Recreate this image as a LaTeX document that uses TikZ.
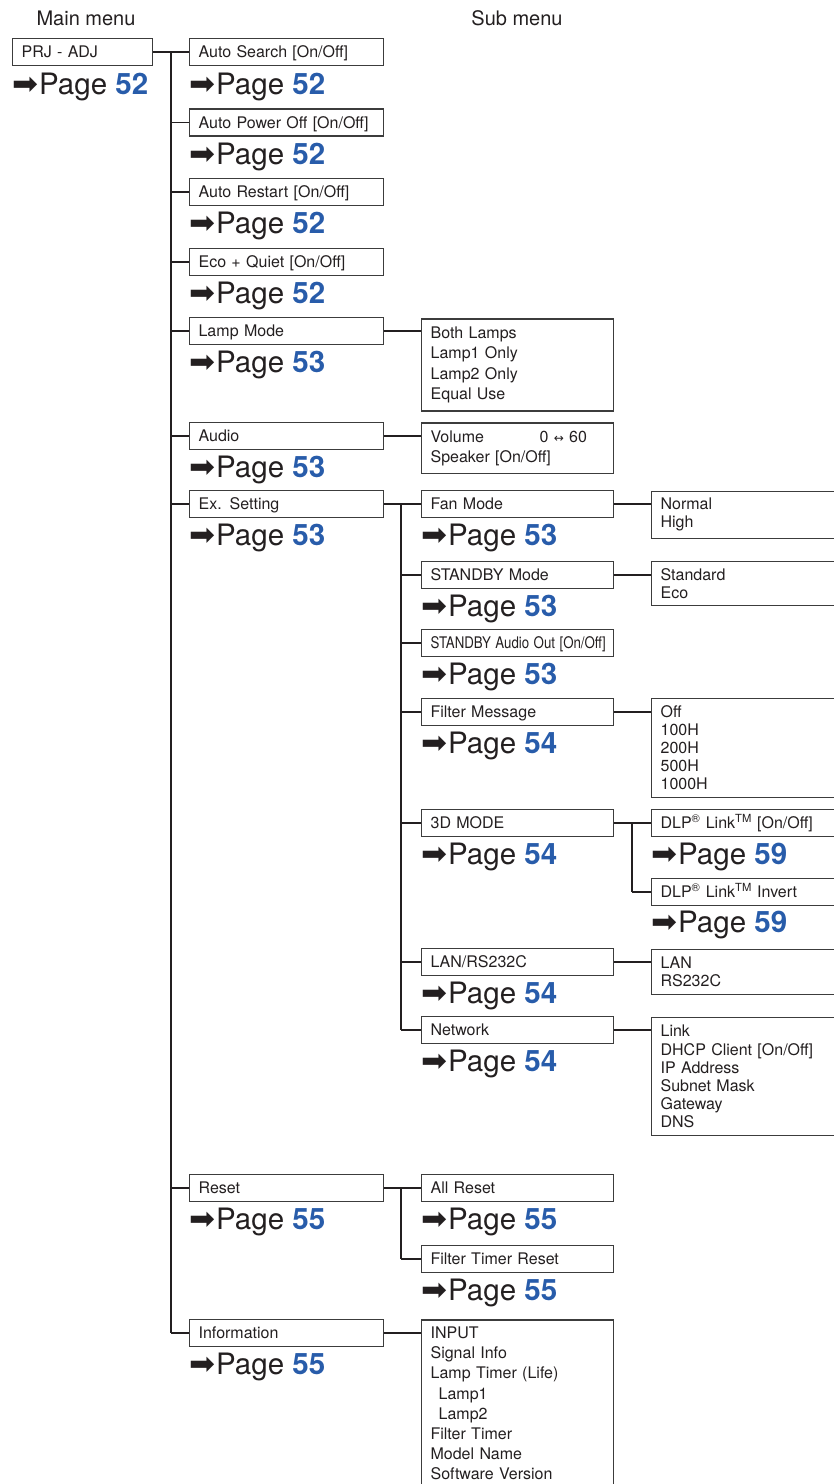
\documentclass[tikz,border=0pt]{standalone}
\usepackage{fontspec}
\usepackage{graphicx}
\usepackage{xcolor}
\usepackage{tikz}
\usetikzlibrary{positioning,calc}
\setmainfont{TeX Gyre Heros}
\newfontfamily\arrowfont{DejaVu Sans}
\definecolor{inkc}{RGB}{35,31,32}
\definecolor{framec}{RGB}{60,60,60}
\definecolor{pgblue}{RGB}{40,92,170}
\newcommand\boxfont{\fontsize{16}{20}\selectfont}
\newcommand\gopage[1]{{\arrowfont\fontsize{31}{32}\selectfont ➡}\hspace{1pt}Page {\bfseries\color{pgblue}#1}}
\tikzset{
  hdr/.style={anchor=base,inner sep=0pt,font=\fontsize{20}{24}\selectfont,text=inkc},
  mbox/.style={draw=framec,line width=1.2pt,text width=#1,align=left,inner xsep=9pt,inner ysep=0pt,
    text height=11.6pt,text depth=0pt,minimum height=27pt,anchor=west,font=\boxfont,text=inkc},
  mbox/.default=174pt,
  lbox/.style={draw=framec,line width=1.2pt,text width=#1,align=left,inner xsep=9pt,inner ysep=7pt,
    anchor=north west,text=inkc},
  lbox/.default=174pt,
  pg/.style={anchor=base west,inner sep=0pt,font=\fontsize{29.5}{31}\selectfont,text=inkc},
  ln/.style={line width=1.6pt,draw=inkc},
}

\begin{document}
\begin{tikzpicture}[x=1pt,y=-1pt]
  \useasboundingbox (0,0) rectangle (834,1484);
  \clip (0,0) rectangle (834,1484);
  % headings
  \node[hdr] (mainhdr) at (86,25) {Main menu};
  \node[hdr] (subhdr) at (517,25) {Sub menu};

  % main menu
  \node[mbox=122pt] (prj) at (12,51.7) {PRJ - ADJ};
  \node[pg] (prjpg) at (12,94) {\gopage{52}};

  % first level
  \node[mbox=176pt] (autosrch) at (189,51.7) {Auto Search [On/Off]};
  \node[pg] (autosrchpg) at (189,94.5) {\gopage{52}};
  \node[mbox=176pt] (autopwr) at (189,122.5) {Auto Power Off [On/Off]};
  \node[pg] (autopwrpg) at (189,164.5) {\gopage{52}};
  \node[mbox=176pt] (autorst) at (189,192) {Auto Restart [On/Off]};
  \node[pg] (autorstpg) at (189,233.5) {\gopage{52}};
  \node[mbox=176pt] (ecoq) at (189,262) {Eco + Quiet [On/Off]};
  \node[pg] (ecoqpg) at (189,303.5) {\gopage{52}};
  \node[mbox=176pt] (lampmode) at (189,331) {Lamp Mode};
  \node[pg] (lampmodepg) at (189,372) {\gopage{53}};
  \node[mbox=176pt] (audio) at (189,436) {Audio};
  \node[pg] (audiopg) at (189,477) {\gopage{53}};
  \node[mbox=176pt] (exset) at (189,504) {Ex. Setting};
  \node[pg] (exsetpg) at (189,545) {\gopage{53}};
  \node[mbox=176pt] (reset) at (189,1188) {Reset};
  \node[pg] (resetpg) at (189,1229) {\gopage{55}};
  \node[mbox=176pt] (info) at (189,1333) {Information};
  \node[pg] (infopg) at (189,1374) {\gopage{55}};

  % second level
  \node[lbox,minimum height=92pt,font=\fontsize{16}{20.2}\selectfont] (lampL) at (421,318.3)
    {Both Lamps\\Lamp1 Only\\Lamp2 Only\\Equal Use};
  \node[lbox,minimum height=50.4pt,font=\fontsize{16}{20}\selectfont] (audioL) at (421,422.3)
    {\makebox[109pt][l]{Volume}0 {\arrowfont\fontsize{12}{12}\selectfont ↔} 60\\Speaker [On/Off]};
  \node[mbox] (fan) at (421,504) {Fan Mode};
  \node[pg] (fanpg) at (421,545) {\gopage{53}};
  \node[mbox] (stby) at (421,575) {STANDBY Mode};
  \node[pg] (stbypg) at (421,616) {\gopage{53}};
  \node[mbox] (stbyaud) at (421,643) {\scalebox{0.83}[1]{STANDBY Audio Out [On/Off]}};
  \node[pg] (stbyaudpg) at (421,684) {\gopage{53}};
  \node[mbox] (filtmsg) at (421,712) {Filter Message};
  \node[pg] (filtmsgpg) at (421,753) {\gopage{54}};
  \node[mbox] (threed) at (421,823) {3D MODE};
  \node[pg] (threedpg) at (421,864) {\gopage{54}};
  \node[mbox] (lan) at (421,962) {LAN/RS232C};
  \node[pg] (lanpg) at (421,1003) {\gopage{54}};
  \node[mbox] (network) at (421,1030) {Network};
  \node[pg] (networkpg) at (421,1071) {\gopage{54}};
  \node[mbox] (allrst) at (421,1188) {All Reset};
  \node[pg] (allrstpg) at (421,1229) {\gopage{55}};
  \node[mbox] (ftrst) at (421,1259) {Filter Timer Reset};
  \node[pg] (ftrstpg) at (421,1300) {\gopage{55}};
  \node[lbox,font=\fontsize{16}{20.2}\selectfont] (infoL) at (421,1319.3)
    {INPUT\\Signal Info\\Lamp Timer (Life)\\\hspace*{8pt}Lamp1\\\hspace*{8pt}Lamp2\\Filter Timer\\Model Name\\Software Version};

  % third level
  \node[lbox=181pt,minimum height=46pt,font=\fontsize{16}{18}\selectfont] (fanL) at (651,490.7) {Normal\\High};
  \node[lbox=181pt,minimum height=43pt,font=\fontsize{16}{18}\selectfont] (stbyL) at (651,561) {Standard\\Eco};
  \node[lbox=181pt,minimum height=99.5pt,font=\fontsize{16}{18}\selectfont] (filtL) at (651,697.7)
    {Off\\100H\\200H\\500H\\1000H};
  \node[mbox=181pt] (dlpa) at (651,823) {DLP\textsuperscript{®} Link\textsuperscript{TM} [On/Off]};
  \node[pg] (dlpapg) at (651,864) {\gopage{59}};
  \node[mbox=181pt] (dlpb) at (651,891.7) {DLP\textsuperscript{®} Link\textsuperscript{TM} Invert};
  \node[pg] (dlpbpg) at (651,932.7) {\gopage{59}};
  \node[lbox=181pt,minimum height=45pt,font=\fontsize{16}{18}\selectfont] (lanL) at (651,949) {LAN\\RS232C};
  \node[lbox=181pt,minimum height=118pt,font=\fontsize{16}{18.2}\selectfont] (netL) at (651,1017)
    {Link\\DHCP Client [On/Off]\\IP Address\\Subnet Mask\\Gateway\\DNS};

  % main trunk
  \coordinate (trunka) at (171,51.7);
  \draw[ln] (prj.east) -- (autosrch.west);
  \draw[ln] (trunka) -- (trunka |- info.west);
  \foreach \n in {autopwr,autorst,ecoq,lampmode,audio,exset,reset,info}
    \draw[ln] (trunka |- \n.west) -- (\n.west);

  % Ex. Setting trunk
  \coordinate (trunkb) at (401,504);
  \draw[ln] (exset.east) -- (fan.west);
  \draw[ln] (trunkb) -- (trunkb |- network.west);
  \foreach \n in {stby,stbyaud,filtmsg,threed,lan,network}
    \draw[ln] (trunkb |- \n.west) -- (\n.west);

  % Reset trunk
  \coordinate (trunkc) at (401,1188);
  \draw[ln] (reset.east) -- (allrst.west);
  \draw[ln] (trunkc) -- (trunkc |- ftrst.west);
  \draw[ln] (trunkc |- ftrst.west) -- (ftrst.west);

  % 3D MODE trunk
  \coordinate (trunkd) at (632,823);
  \draw[ln] (threed.east) -- (dlpa.west);
  \draw[ln] (trunkd) -- (trunkd |- dlpb.west);
  \draw[ln] (trunkd |- dlpb.west) -- (dlpb.west);

  % lists
  \draw[ln] (lampmode.east) -- (lampmode.east -| lampL.west);
  \draw[ln] (audio.east) -- (audio.east -| audioL.west);
  \draw[ln] (fan.east) -- (fan.east -| fanL.west);
  \draw[ln] (stby.east) -- (stby.east -| stbyL.west);
  \draw[ln] (filtmsg.east) -- (filtmsg.east -| filtL.west);
  \draw[ln] (lan.east) -- (lan.east -| lanL.west);
  \draw[ln] (network.east) -- (network.east -| netL.west);
  \draw[ln] (info.east) -- (info.east -| infoL.west);
\end{tikzpicture}
\end{document}
